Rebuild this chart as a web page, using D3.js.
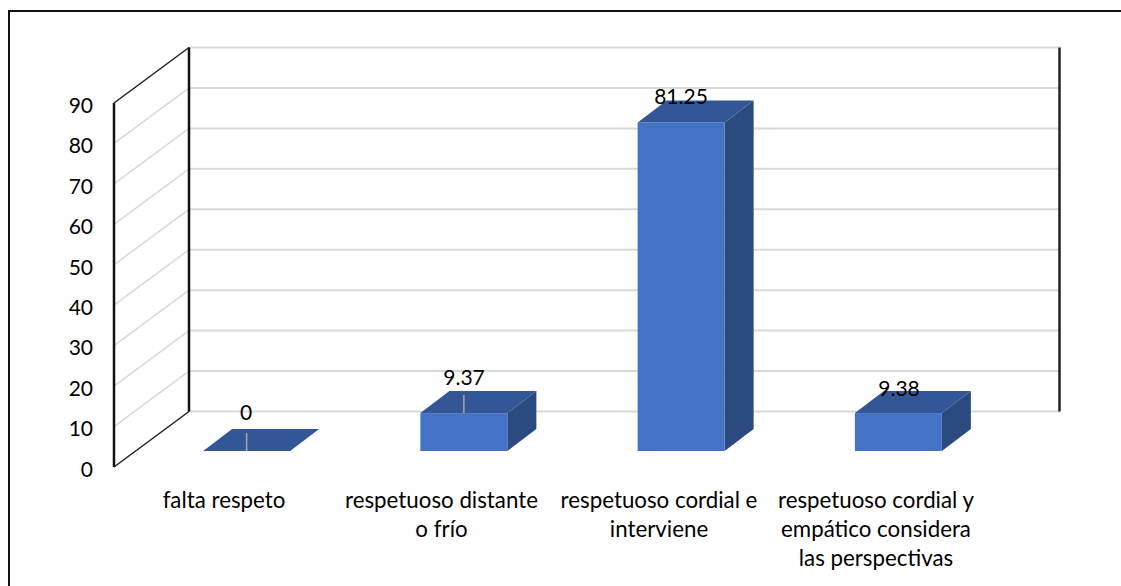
<!DOCTYPE html>
<html><head><meta charset="utf-8">
<style>html,body{margin:0;padding:0;background:#fff}svg{display:block}text{font-family:Lato,"Open Sans",sans-serif;font-size:21px;fill:#000}.cat{font-size:22.3px}</style>
<script src="https://cdn.jsdelivr.net/npm/d3@7/dist/d3.min.js"></script>
</head><body><svg id="c" width="1121" height="586"></svg>
<script>
const categories=["falta respeto","respetuoso distante o frío","respetuoso cordial e interviene","respetuoso cordial y empático considera las perspectivas"];
const catLines=[["falta respeto"],["respetuoso distante","o frío"],["respetuoso cordial e","interviene"],["respetuoso cordial y","empático considera","las perspectivas"]];
const values=[0,9.37,81.25,9.38];
const ticks=[0,10,20,30,40,50,60,70,80,90];
const W=1121,H=586;
const svg=d3.select("#c");
svg.append("path").attr("d",`M9,${H}V11H${W}`).attr("fill","none").attr("stroke","#111").attr("stroke-width",2);
const y=d3.scaleLinear().domain([0,90]).range([467,103]);
const dx=75,dy=-55.5;
const x=d3.scaleBand().domain(categories).range([138,1007]);
const bw=87,ddx=29,ddy=-22,base=451;
const gy=d=>y(d)-y(0);
const g=svg.append("g");
ticks.forEach(t=>{
  const yf=y(t),yb=y(t)+dy;
  g.append("line").attr("x1",114).attr("y1",yf).attr("x2",114+dx).attr("y2",yb).attr("stroke","#d9d9d9").attr("stroke-width",1.5);
  g.append("line").attr("x1",114+dx).attr("y1",yb).attr("x2",1060).attr("y2",yb).attr("stroke","#d9d9d9").attr("stroke-width",2);
});
g.append("line").attr("x1",114).attr("y1",y(0)).attr("x2",114).attr("y2",y(90)).attr("stroke","#111").attr("stroke-width",2.5);
g.append("line").attr("x1",189).attr("y1",y(0)+dy).attr("x2",189).attr("y2",y(90)+dy).attr("stroke","#111").attr("stroke-width",2.5);
g.append("line").attr("x1",1059.5).attr("y1",y(0)+dy).attr("x2",1059.5).attr("y2",y(90)+dy).attr("stroke","#222").attr("stroke-width",2.5);
g.append("line").attr("x1",114).attr("y1",y(0)).attr("x2",189).attr("y2",y(0)+dy).attr("stroke","#222").attr("stroke-width",1.4);
g.append("line").attr("x1",114).attr("y1",y(90)).attr("x2",189).attr("y2",y(90)+dy).attr("stroke","#222").attr("stroke-width",1.4);
ticks.forEach(t=>{
  svg.append("text").attr("x",93).attr("y",y(t)+4.5).attr("text-anchor","end").attr("dominant-baseline","middle").text(t);
});
const bars=svg.append("g").selectAll("g").data(values).join("g");
bars.each(function(v,i){
  const s=d3.select(this);
  const x0=x(categories[i])+x.bandwidth()/2-bw/2;
  const h=-gy(v);
  const top=base-h;
  s.append("polygon").attr("points",[[x0+bw,base],[x0+bw+ddx,base+ddy],[x0+bw+ddx,top+ddy],[x0+bw,top]].join(" ")).attr("fill","#2a4a80");
  s.append("polygon").attr("points",[[x0,top],[x0+ddx,top+ddy],[x0+bw+ddx,top+ddy],[x0+bw,top]].join(" ")).attr("fill","#335796");
  if(h>0) s.append("rect").attr("x",x0).attr("y",top).attr("width",bw).attr("height",h).attr("fill","#4472c4");
  const cx=x0+bw/2;
  if(i<2) s.append("line").attr("x1",cx).attr("x2",cx).attr("y1",top+ddy+4).attr("y2",top).attr("stroke","#a6a6a6").attr("stroke-width",1.5);
  const lab=[[246,415],[464,380],[681,99],[899,391]][i];
  s.append("text").attr("x",lab[0]).attr("y",lab[1]).attr("text-anchor","middle").attr("dominant-baseline","middle").text(v);
});
catLines.forEach((ls,i)=>{
  const cx=[224,441.5,659,876][i];
  ls.forEach((l,j)=>svg.append("text").attr("class","cat").attr("x",cx).attr("y",502+j*29).attr("text-anchor","middle").attr("dominant-baseline","middle").text(l));
});
</script></body></html>
